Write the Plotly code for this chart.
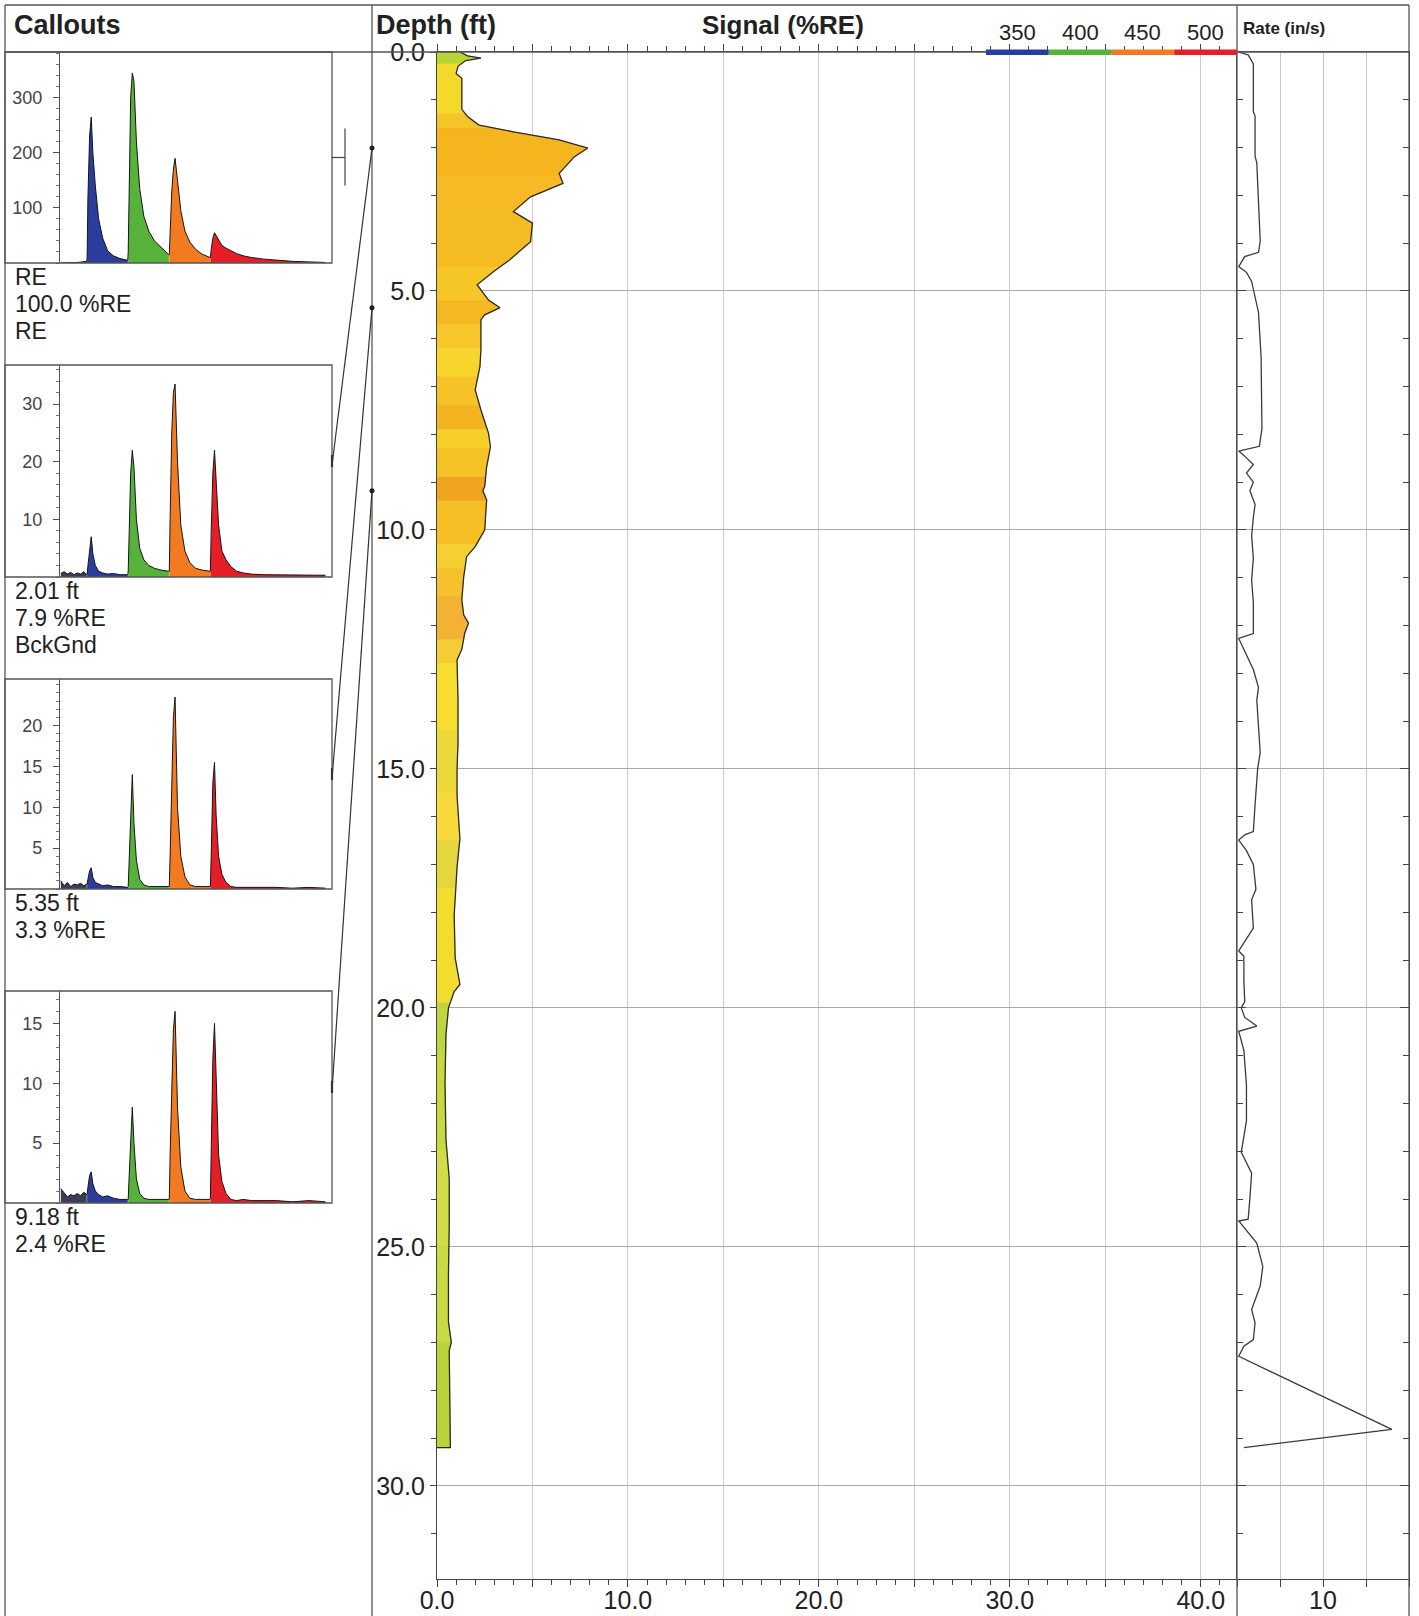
import numpy as np
import plotly.graph_objects as go

W, H = 1419, 1616

# ---------------- data ----------------
SIGNAL_DEPTH = [0.0, 0.08, 0.13, 0.18, 0.3, 0.45, 0.55, 1.2, 1.35, 1.53, 1.67, 1.84, 2.01, 2.19, 2.54,
                2.75, 3.03, 3.34, 3.58, 3.97, 4.35, 4.6, 4.87, 5.19, 5.35, 5.5, 5.6, 6.23, 6.58, 7.07,
                7.49, 7.98, 8.26, 8.68, 9.09, 9.18, 9.37, 10.0, 10.35, 10.56, 10.98, 11.46, 11.78, 11.95,
                12.16, 12.5, 12.72, 13.56, 14.46, 15.0, 15.56, 16.46, 17.06, 18.06, 18.95, 19.51, 19.66,
                20.0, 20.56, 21.56, 22.76, 23.57, 24.57, 25.57, 26.57, 27.0, 27.17, 28.97, 29.2]
SIGNAL_VALUE = [1.2, 1.6, 2.3, 1.5, 1.1, 1.0, 1.3, 1.3, 1.6, 2.2, 4.0, 6.4, 7.9, 7.2, 6.4,
                6.6, 4.9, 4.0, 5.0, 4.9, 3.8, 2.95, 2.1, 2.7, 3.3, 2.5, 2.3, 2.3, 2.25, 2.0,
                2.3, 2.7, 2.8, 2.6, 2.5, 2.4, 2.6, 2.5, 2.0, 1.55, 1.4, 1.3, 1.4, 1.65,
                1.45, 1.3, 1.05, 1.1, 1.1, 1.05, 1.05, 1.2, 1.05, 0.9, 0.95, 1.2, 0.9,
                0.6, 0.47, 0.42, 0.47, 0.64, 0.64, 0.6, 0.6, 0.75, 0.64, 0.7, 0.7]

# colour of the signal band, by depth (top of each band)
BAND_TOP = [0.0, 0.25, 1.3, 1.6, 2.6, 3.2, 4.5, 5.2, 5.7, 6.2, 6.8, 7.4, 7.9, 8.3, 8.9, 9.4,
            10.3, 10.8, 11.4, 12.3, 12.8, 14.2, 15.5, 16.5, 17.5, 19.9, 21.0, 23.0, 25.0, 27.0]
BAND_COLOR = ['#b9d534', '#f3d92a', '#f5c428', '#f5b51f', '#f7b925', '#f5bb22', '#f6c526', '#f5b722',
              '#f6c62a', '#f7d52c', '#f5c327', '#f4b420', '#f6cf2a', '#f5c225', '#f0a31e', '#f5bf25',
              '#f6d032', '#f5c22e', '#f3b233', '#f5cc35', '#f7dd30', '#ecd83a', '#f7d93a', '#e4d63c',
              '#f2dc2e', '#bfd43e', '#c8d940', '#d3dc48', '#c8d942', '#bad33a']

RATE_DEPTH = [0.0, 0.06, 0.25, 1.25, 1.34, 2.18, 2.32, 3.96, 4.19, 4.28, 4.49, 4.61, 4.8, 5.45, 6.38,
              7.32, 7.88, 8.25, 8.35, 8.44, 8.63, 8.81, 9.0, 9.18, 9.47, 9.74, 10.12, 10.59, 11.05,
              11.52, 12.17, 12.27, 12.55, 12.92, 13.3, 13.56, 14.66, 15.0, 15.75, 16.31, 16.38, 16.49,
              16.71, 17.0, 17.52, 17.74, 18.33, 18.63, 18.81, 18.92, 19.43, 19.87, 20.0, 20.2, 20.38,
              20.49, 20.89, 21.62, 22.36, 23.02, 23.46, 23.98, 24.42, 24.46, 24.92, 25.41, 25.82,
              26.31, 26.59, 26.94, 27.08, 27.29, 28.82, 29.2]
RATE_VALUE = [0.15, 1.3, 1.9, 1.9, 2.1, 2.1, 2.3, 2.7, 2.5, 0.9, 0.2, 1.1, 1.7, 2.5, 2.8,
              2.9, 2.9, 2.6, 0.2, 0.8, 1.9, 1.1, 1.9, 1.5, 2.1, 1.9, 1.7, 1.9, 1.7,
              1.9, 1.9, 0.2, 0.9, 1.9, 2.5, 2.3, 2.7, 2.4, 2.1, 1.9, 0.9, 0.2,
              1.1, 1.9, 2.2, 1.7, 1.9, 0.9, 0.2, 0.8, 0.8, 0.9, 0.5, 0.9, 2.3,
              0.2, 0.8, 1.1, 1.1, 0.5, 1.7, 1.5, 1.3, 0.2, 2.3, 3.0, 2.7,
              1.7, 2.1, 1.9, 0.8, 0.2, 18.0, 0.8]

WAVE_LABELS = [350, 400, 450, 500]
WAVE_COLORS = ['#2b3d9c', '#56b23a', '#f27a20', '#e61e28']

SPEC_WL = [318, 322, 326, 330, 334, 338, 342, 346, 349.5,
           350, 351, 353, 355, 357, 360, 364, 369, 375, 382, 390, 399.5,
           400, 401, 403, 405, 407, 410, 414, 419, 425, 432, 440, 449.5,
           450, 451, 453, 455, 457, 460, 464, 469, 475, 482, 490, 499.5,
           500, 501, 503, 505, 507, 510, 514, 519, 525, 532, 540, 550, 565, 580, 600, 620, 640]
SPEC_RE = [0, 0, 0, 0.5, 1, 1, 1.5, 2, 3,
           10, 120, 230, 265, 200, 140, 80, 45, 22, 13, 8, 5,
           20, 150, 300, 345, 330, 220, 135, 85, 58, 40, 28, 15,
           15, 60, 130, 170, 190, 150, 95, 58, 38, 25, 16, 10,
           10, 25, 45, 55, 50, 40, 32, 27, 22, 17, 13, 10, 7, 5, 3, 2, 1]
SPEC_201 = [0.6, 0.9, 0.5, 0.8, 0.4, 0.7, 0.5, 0.9, 0.4,
            0.5, 2, 5, 7, 4, 2, 1, 0.7, 0.5, 0.6, 0.4, 0.4,
            1, 8, 18, 22, 19, 10, 5, 3, 2, 1.5, 1.2, 1,
            1, 10, 25, 32, 33.5, 20, 9, 4.5, 2.5, 1.5, 1.2, 1,
            1, 8, 18, 22, 17, 9, 4.5, 3, 1.8, 1, 0.7, 0.5, 0.4, 0.4, 0.3, 0.3, 0.3]
SPEC_535 = [1, 0.4, 0.8, 0.3, 0.6, 0.5, 0.7, 0.4, 0.6,
            0.6, 1.2, 2.2, 2.6, 1.4, 0.8, 0.6, 0.4, 0.5, 0.3, 0.3, 0.2,
            0.3, 3, 9, 14, 8, 3.5, 1.2, 0.5, 0.3, 0.3, 0.3, 0.3,
            0.3, 4, 13, 21, 23.5, 10, 4, 1.5, 0.5, 0.3, 0.3, 0.3,
            0.3, 4, 13, 15.5, 9, 4, 1.8, 0.8, 0.3, 0.2, 0.2, 0.2, 0.2, 0.2, 0.1, 0.2, 0.1]
SPEC_918 = [1.2, 0.8, 0.5, 0.7, 0.6, 0.8, 0.6, 0.9, 0.7,
            0.8, 1.5, 2.3, 2.6, 1.6, 1.0, 0.7, 0.5, 0.6, 0.4, 0.3, 0.3,
            0.3, 2, 5.5, 8, 5, 2, 0.8, 0.4, 0.3, 0.3, 0.3, 0.3,
            0.3, 4, 10, 14.5, 16, 8, 3, 1, 0.4, 0.3, 0.3, 0.3,
            0.4, 5, 12, 15, 10, 4, 1.8, 0.8, 0.3, 0.2, 0.3, 0.2, 0.2, 0.2, 0.1, 0.2, 0.1]

CALLOUT_SPECTRA = [SPEC_RE, SPEC_201, SPEC_535, SPEC_918]
CALLOUT_DEPTHS = [None, 2.01, 5.35, 9.18]
CALLOUT_TEXT = [["RE", "100.0 %RE", "RE"], ["2.01 ft", "7.9 %RE", "BckGnd"],
                ["5.35 ft", "3.3 %RE"], ["9.18 ft", "2.4 %RE"]]
CALLOUT_YMAX = [383, 36.8, 25.7, 17.7]
CALLOUT_TICKS = [[100, 200, 300], [10, 20, 30], [5, 10, 15, 20], [5, 10, 15]]
CALLOUT_MINOR = [20, 2, 1, 1]

# ---------------- layout geometry (pixels) ----------------
def px(x):
    return x / W


def py(y):
    return 1 - y / H


SIG_X0, SIG_X1, RATE_X1 = 437, 1237, 1409
PLOT_TOP, PLOT_BOT = 52, 1579
DIV_X = 372
DEPTH_RANGE = [31.95, 0]
SIGNAL_RANGE = [0, 41.9]
RATE_RANGE = [0, 20]
BOX_TOP = [52, 365, 679, 991]
BOX_BOT = [263, 577, 889, 1203]
BOX_X0, BOX_AX, BOX_X1 = 5, 60, 332

FONT = "Liberation Sans, Arial, Helvetica, sans-serif"
TXT = '#222222'

fig = go.Figure()

# ---- signal fill, coloured by depth band ----
sd = np.array(SIGNAL_DEPTH)
sv = np.array(SIGNAL_VALUE)
bottom = SIGNAL_DEPTH[-1]
for i, top in enumerate(BAND_TOP):
    bot = BAND_TOP[i + 1] if i + 1 < len(BAND_TOP) else bottom
    bot = min(bot, bottom)
    if bot <= top:
        continue
    inner = [(d, v) for d, v in zip(SIGNAL_DEPTH, SIGNAL_VALUE) if top < d < bot]
    ys = [top, top] + [d for d, _ in inner] + [bot, bot, top]
    xs = [0, float(np.interp(top, sd, sv))] + [v for _, v in inner] + \
         [float(np.interp(bot, sd, sv)), 0, 0]
    fig.add_trace(go.Scatter(x=xs, y=ys, fill='toself', fillcolor=BAND_COLOR[i], mode='lines',
                             line=dict(color=BAND_COLOR[i], width=0.8), hoverinfo='skip',
                             showlegend=False, xaxis='x', yaxis='y'))

# outline of signal
fig.add_trace(go.Scatter(x=SIGNAL_VALUE + [0], y=SIGNAL_DEPTH + [bottom], mode='lines',
                         line=dict(color='#2a2a2a', width=1.3), hoverinfo='skip',
                         showlegend=False, xaxis='x', yaxis='y'))

# ---- rate ----
fig.add_trace(go.Scatter(x=RATE_VALUE, y=RATE_DEPTH, mode='lines',
                         line=dict(color='#3a3a3a', width=1.3), hoverinfo='skip',
                         showlegend=False, xaxis='x2', yaxis='y2'))

# ---- callout spectra ----
spec_bands = [(300, 350, '#3c3c55')] + [
    (WAVE_LABELS[i], WAVE_LABELS[i + 1] if i + 1 < len(WAVE_LABELS) else 1000, WAVE_COLORS[i])
    for i in range(len(WAVE_LABELS))]
for k, spec in enumerate(CALLOUT_SPECTRA):
    xa, ya = f'x{k + 5}', f'y{k + 5}'
    for lo, hi, col in spec_bands:
        xs = [w for w in SPEC_WL if lo <= w < hi]
        ys = [v for w, v in zip(SPEC_WL, spec) if lo <= w < hi]
        fig.add_trace(go.Scatter(x=xs, y=ys, fill='tozeroy', fillcolor=col, mode='lines',
                                 line=dict(width=0, color=col), hoverinfo='skip',
                                 showlegend=False, xaxis=xa, yaxis=ya))
    fig.add_trace(go.Scatter(x=SPEC_WL, y=spec, mode='lines', line=dict(color='#151515', width=1),
                             hoverinfo='skip', showlegend=False, xaxis=xa, yaxis=ya))

# ---------------- axes ----------------
plot_dom_y = [py(PLOT_BOT), py(PLOT_TOP)]
axis_col = '#444444'
layout = dict(
    width=W, height=H, margin=dict(l=0, r=0, t=0, b=0, autoexpand=False),
    paper_bgcolor='white', plot_bgcolor='rgba(0,0,0,0)',
    font=dict(family=FONT, color=TXT),
    showlegend=False,
    xaxis=dict(domain=[px(SIG_X0), px(SIG_X1)], range=SIGNAL_RANGE, anchor='y', automargin=False,
               tickmode='array', tickvals=[0, 5, 10, 15, 20, 25, 30, 35, 40],
               ticktext=['0.0', '', '10.0', '', '20.0', '', '30.0', '', '40.0'],
               ticks='outside', ticklen=7, tickcolor=axis_col, showline=True, linecolor=axis_col,
               linewidth=1.2, mirror='ticks', showgrid=True, gridcolor='#cdcdcd', gridwidth=1,
               zeroline=False, tickfont=dict(size=25, color=TXT), ticklabelstandoff=-8,
               minor=dict(dtick=1, ticks='outside', ticklen=5, tickcolor=axis_col, showgrid=False)),
    yaxis=dict(domain=plot_dom_y, range=DEPTH_RANGE, anchor='x', automargin=False,
               tickmode='linear', tick0=0, dtick=5, tickformat='.1f',
               ticks='outside', ticklen=6, tickcolor=axis_col, showline=True, linecolor=axis_col,
               linewidth=1.2, showgrid=True, gridcolor='#a8a8a8', gridwidth=1, zeroline=False,
               tickfont=dict(size=25, color=TXT),
               minor=dict(dtick=1, ticks='outside', ticklen=5, tickcolor=axis_col, showgrid=False)),
    xaxis2=dict(domain=[px(SIG_X1), px(RATE_X1)], range=RATE_RANGE, anchor='y2', automargin=False,
                tickmode='array', tickvals=[0, 5, 10, 15, 20], ticktext=['', '', '10', '', ''],
                ticks='outside', ticklen=7, tickcolor=axis_col, showline=True, linecolor=axis_col,
                linewidth=1.2, mirror=True, showgrid=True, gridcolor='#c8c8c8', zeroline=False,
                tickfont=dict(size=25, color=TXT), ticklabelstandoff=-8),
    yaxis2=dict(domain=plot_dom_y, range=DEPTH_RANGE, anchor='x2', automargin=False,
                tickmode='linear', tick0=0, dtick=5, showticklabels=False,
                ticks='inside', ticklen=9, tickcolor=axis_col, showline=True, linecolor=axis_col,
                linewidth=1.2, mirror='ticks', showgrid=True, gridcolor='#a8a8a8', zeroline=False,
                minor=dict(dtick=1, ticks='inside', ticklen=6, tickcolor=axis_col, showgrid=False)),
    yaxis3=dict(domain=plot_dom_y, range=DEPTH_RANGE, overlaying='y', anchor='free', automargin=False,
                position=px(DIV_X), side='left', tickmode='linear', tick0=0, dtick=5,
                showticklabels=False, ticks='inside', ticklen=11, tickcolor=axis_col,
                showline=False, showgrid=False, zeroline=False,
                minor=dict(dtick=1, ticks='inside', ticklen=5, tickcolor=axis_col, showgrid=False)),
    yaxis4=dict(domain=plot_dom_y, range=DEPTH_RANGE, overlaying='y', anchor='free', automargin=False,
                position=px(SIG_X1), side='right', tickmode='linear', tick0=0, dtick=5,
                showticklabels=False, ticks='inside', ticklen=9, tickcolor=axis_col,
                showline=False, showgrid=False, zeroline=False,
                minor=dict(dtick=1, ticks='inside', ticklen=6, tickcolor=axis_col, showgrid=False)),
)

for k in range(4):
    layout[f'xaxis{k + 5}'] = dict(domain=[px(BOX_AX), px(BOX_X1)], range=[317, 648],
                                   anchor=f'y{k + 5}', showticklabels=False, showgrid=False,
                                   zeroline=False, showline=False, ticks='', automargin=False)
    layout[f'yaxis{k + 5}'] = dict(domain=[py(BOX_BOT[k]), py(BOX_TOP[k])],
                                   range=[0, CALLOUT_YMAX[k]], anchor=f'x{k + 5}',
                                   tickmode='array', tickvals=CALLOUT_TICKS[k], automargin=False,
                                   ticks='outside', ticklen=6, tickcolor='#555',
                                   showline=True, linecolor='#555', linewidth=1.2,
                                   showgrid=False, zeroline=False, ticklabelstandoff=7,
                                   tickfont=dict(size=18, color='#444'),
                                   minor=dict(dtick=CALLOUT_MINOR[k], ticks='outside',
                                              ticklen=3, tickcolor='#777', showgrid=False))
fig.update_layout(**layout)

# ---------------- frame & separators ----------------
shapes = []
line_c = '#555555'
def add_line(x0, y0, x1, y1, w=1.3, c=line_c):
    shapes.append(dict(type='line', xref='paper', yref='paper', x0=px(x0), y0=py(y0),
                       x1=px(x1), y1=py(y1), line=dict(color=c, width=w)))

add_line(5, 5, RATE_X1, 5)             # top border
add_line(5, 5, 5, H)                   # left border
add_line(DIV_X, 5, DIV_X, H)           # callouts | depth
add_line(SIG_X1, 5, SIG_X1, H)         # signal | rate
add_line(RATE_X1, 5, RATE_X1, H)       # right border
add_line(5, PLOT_TOP, RATE_X1, PLOT_TOP)  # header separator

for k in range(4):
    shapes.append(dict(type='rect', xref='paper', yref='paper', x0=px(BOX_X0), x1=px(BOX_X1),
                       y0=py(BOX_BOT[k]), y1=py(BOX_TOP[k]), line=dict(color=line_c, width=1.3)))

# connectors from depth axis to callout boxes
def depth_to_px(d):
    return PLOT_TOP + (d - DEPTH_RANGE[1]) / (DEPTH_RANGE[0] - DEPTH_RANGE[1]) * (PLOT_BOT - PLOT_TOP)

for k, d in enumerate(CALLOUT_DEPTHS):
    mid = (BOX_TOP[k] + BOX_BOT[k]) / 2
    if d is None:
        add_line(BOX_X1, mid, BOX_X1 + 13, mid, 1.2, '#444')
        add_line(BOX_X1 + 13, mid - 29, BOX_X1 + 13, mid + 28, 1.2, '#444')
        continue
    yd = depth_to_px(d)
    add_line(DIV_X, yd, BOX_X1, mid - 6, 1.2, '#333')
    add_line(BOX_X1, mid - 16, BOX_X1, mid - 4, 2.2, '#333')
    shapes.append(dict(type='circle', xref='paper', yref='paper', x0=px(DIV_X - 2.5),
                       x1=px(DIV_X + 2.5), y0=py(yd + 2.5), y1=py(yd - 2.5),
                       fillcolor='#222', line=dict(width=0)))

# wavelength key bar along top of signal track
key_x0 = 986
seg_w = (SIG_X1 - key_x0) / len(WAVE_LABELS)
annotations = []
for i, (lab, col) in enumerate(zip(WAVE_LABELS, WAVE_COLORS)):
    x0 = key_x0 + i * seg_w
    shapes.append(dict(type='rect', xref='paper', yref='paper', x0=px(x0), x1=px(x0 + seg_w),
                       y0=py(55), y1=py(49.5), fillcolor=col, line=dict(width=0)))
    annotations.append(dict(xref='paper', yref='paper', x=px(x0 + seg_w / 2), y=py(33),
                            text=str(lab), showarrow=False, xanchor='center', yanchor='middle',
                            font=dict(size=22, color=TXT)))

# header titles
def add_text(x, y, text, size, bold=False, anchor='left'):
    annotations.append(dict(xref='paper', yref='paper', x=px(x), y=py(y),
                            text=f'<b>{text}</b>' if bold else text, showarrow=False,
                            xanchor=anchor, yanchor='middle', font=dict(size=size, color=TXT)))

add_text(12, 25, 'Callouts', 27, True)
add_text(374, 25, 'Depth (ft)', 27, True)
add_text(783, 25, 'Signal (%RE)', 26, True, 'center')
add_text(1241, 28, 'Rate (in/s)', 17, True)

for k, lines in enumerate(CALLOUT_TEXT):
    for j, t in enumerate(lines):
        add_text(13, BOX_BOT[k] + 14 + 27 * j, t, 23)

fig.update_layout(shapes=shapes, annotations=annotations)
fig.write_html("out.html", config={'displayModeBar': False},
               post_script="document.body.style.margin='0px';")
